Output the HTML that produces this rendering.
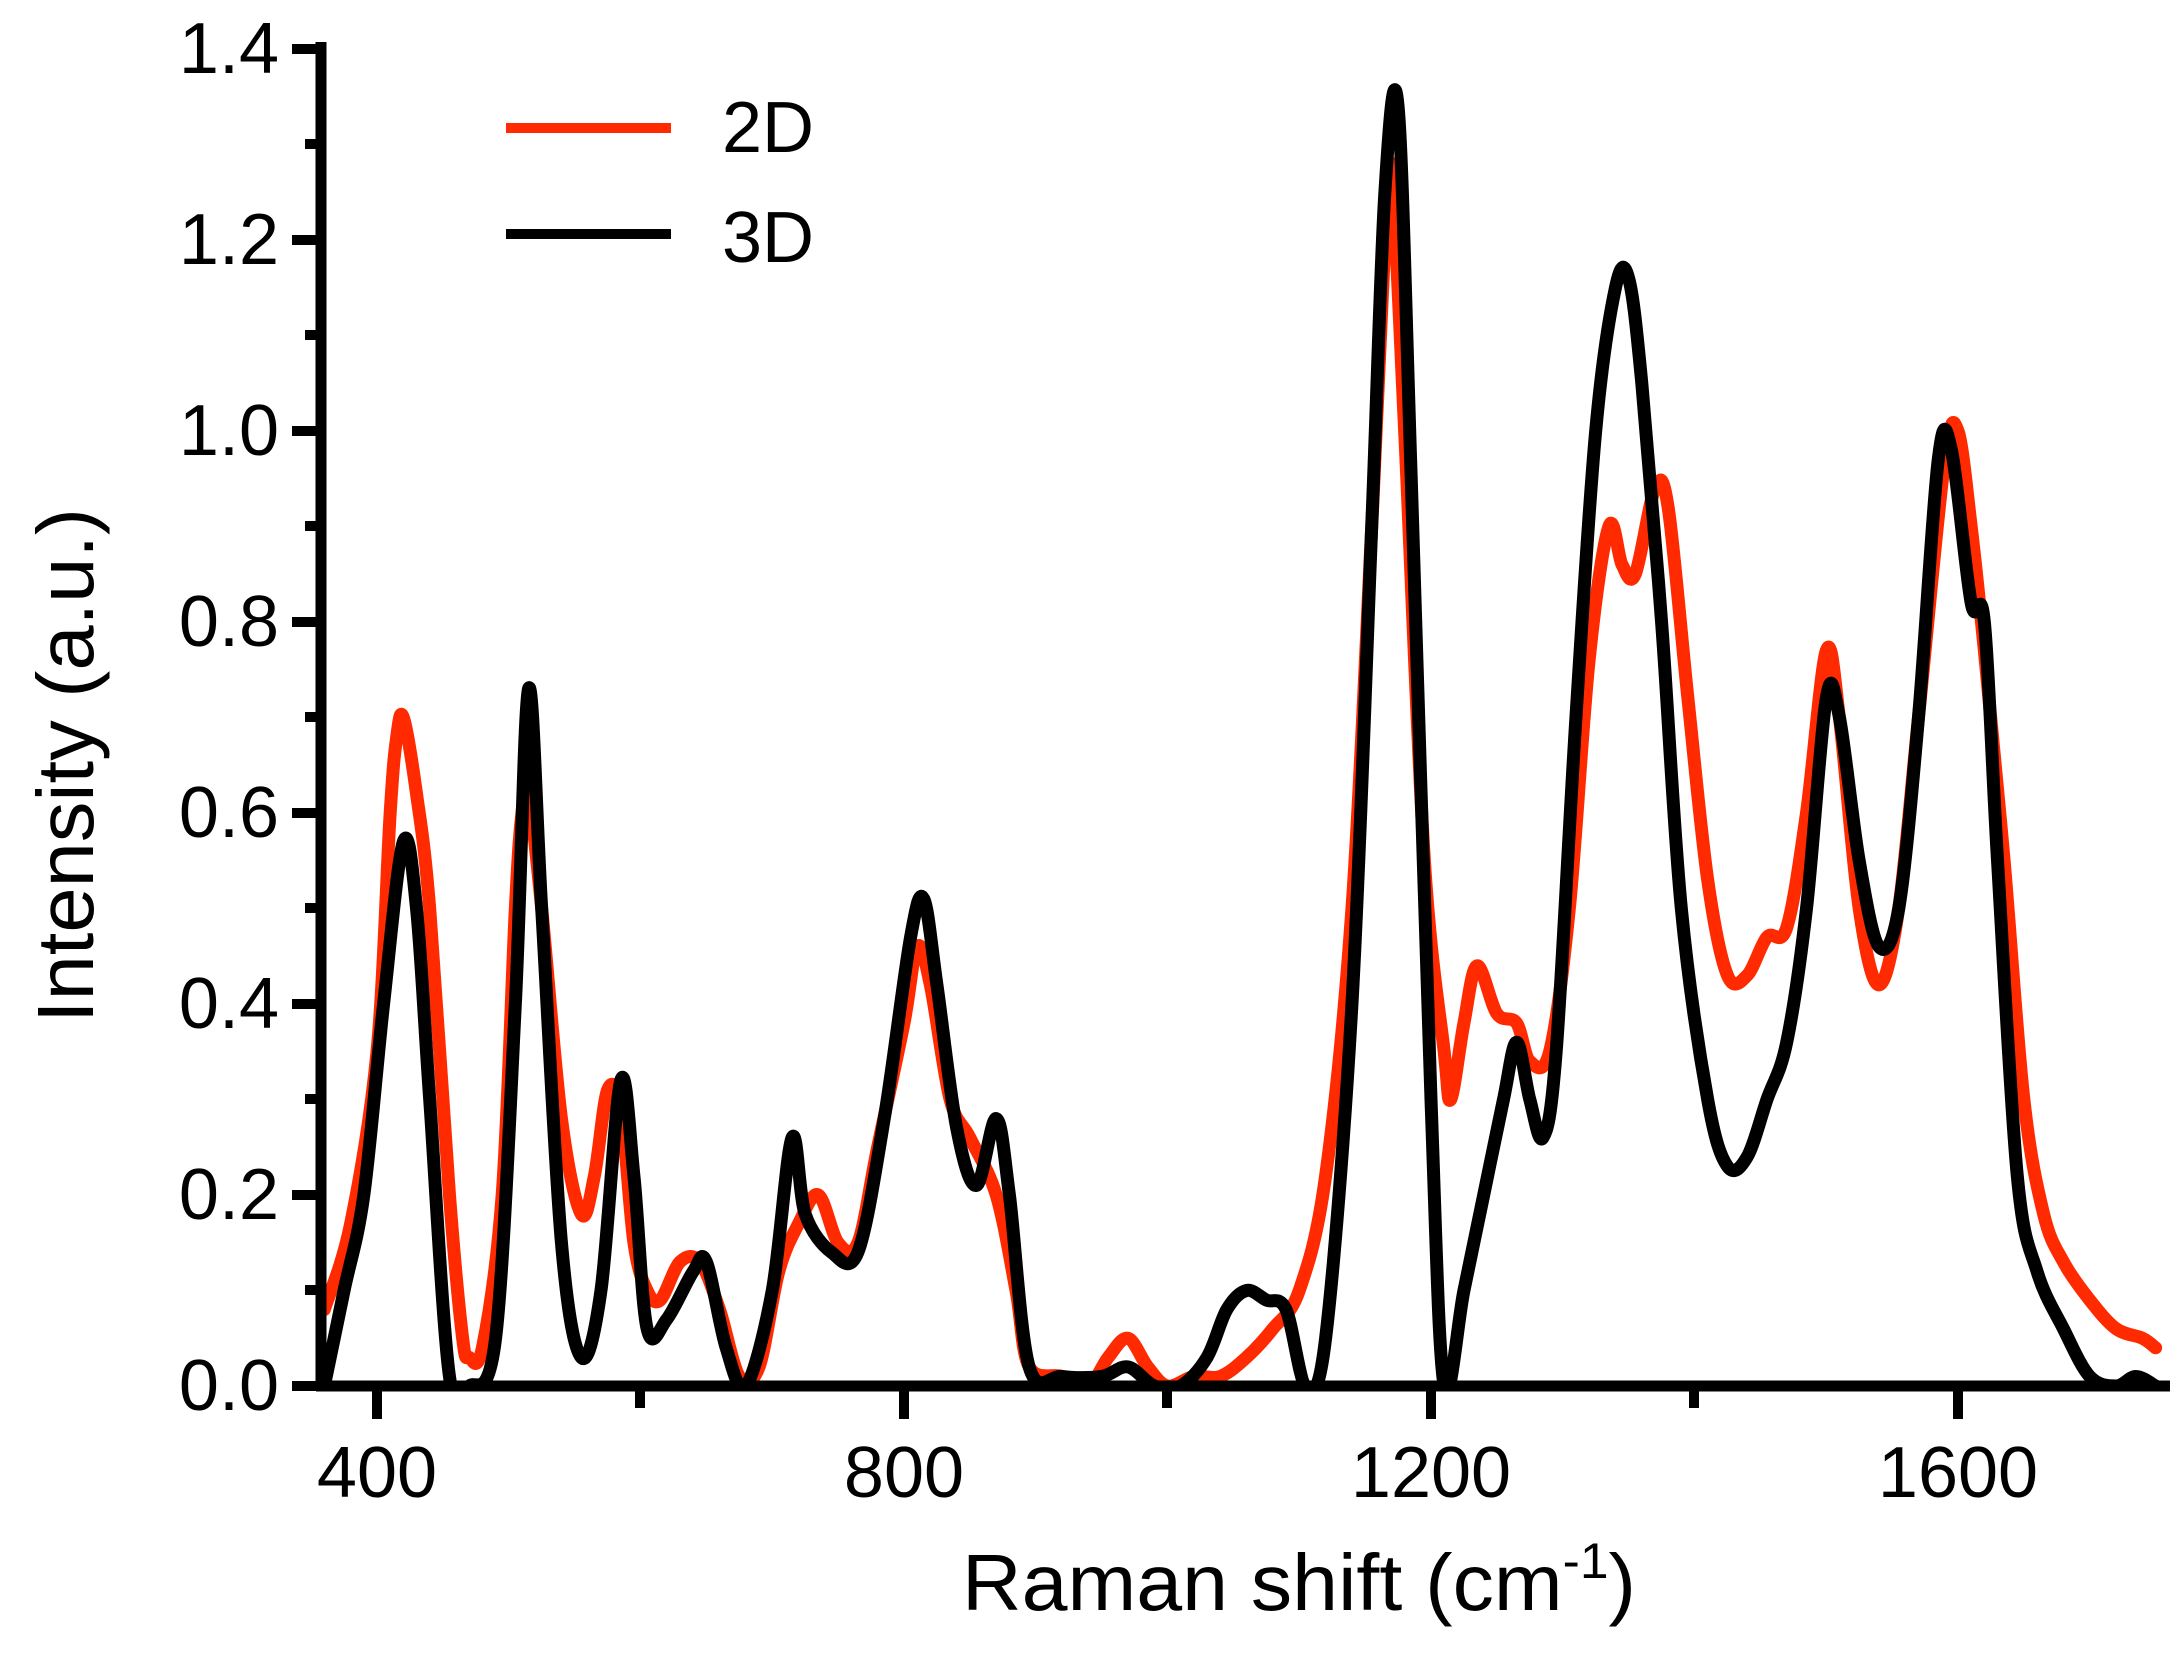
<!DOCTYPE html>
<html><head><meta charset="utf-8"><style>html,body{margin:0;padding:0;background:#fff}svg{display:block}</style></head>
<body>
<svg width="2179" height="1659" viewBox="0 0 2179 1659" xmlns="http://www.w3.org/2000/svg" font-family="Liberation Sans, sans-serif">
<defs><clipPath id="c"><rect x="326" y="20" width="1845" height="1362"/></clipPath></defs>
<g clip-path="url(#c)" fill="none" stroke-linejoin="round" stroke-linecap="round">
<path id="r" stroke="#ff2a00" stroke-width="13" d=""/>
<path id="k" stroke="#000" stroke-width="13" d=""/>
</g>
<g stroke="#000" stroke-width="11" fill="none">
<line x1="321" y1="42" x2="321" y2="1391"/>
<line x1="316" y1="1386" x2="2170" y2="1386"/>
</g>
<g stroke="#000" stroke-width="10">
<line x1="292" y1="1386" x2="321" y2="1386"/><line x1="292" y1="1195" x2="321" y2="1195"/><line x1="292" y1="1004" x2="321" y2="1004"/><line x1="292" y1="813" x2="321" y2="813"/><line x1="292" y1="622" x2="321" y2="622"/><line x1="292" y1="431" x2="321" y2="431"/><line x1="292" y1="240" x2="321" y2="240"/><line x1="292" y1="49" x2="321" y2="49"/>
<line x1="305" y1="1290" x2="321" y2="1290"/><line x1="305" y1="1099" x2="321" y2="1099"/><line x1="305" y1="908" x2="321" y2="908"/><line x1="305" y1="717" x2="321" y2="717"/><line x1="305" y1="526" x2="321" y2="526"/><line x1="305" y1="335" x2="321" y2="335"/><line x1="305" y1="144" x2="321" y2="144"/>
<line x1="377" y1="1386" x2="377" y2="1419"/><line x1="904" y1="1386" x2="904" y2="1419"/><line x1="1431" y1="1386" x2="1431" y2="1419"/><line x1="1958" y1="1386" x2="1958" y2="1419"/>
<line x1="640" y1="1386" x2="640" y2="1408"/><line x1="1167" y1="1386" x2="1167" y2="1408"/><line x1="1694" y1="1386" x2="1694" y2="1408"/>
</g>
<g font-size="72" fill="#000" text-anchor="end">
<text x="279" y="1410">0.0</text><text x="279" y="1219">0.2</text><text x="279" y="1028">0.4</text><text x="279" y="837">0.6</text><text x="279" y="646">0.8</text><text x="279" y="455">1.0</text><text x="279" y="264">1.2</text><text x="279" y="73">1.4</text>
</g>
<g font-size="72" fill="#000" text-anchor="middle">
<text x="377" y="1497">400</text><text x="904" y="1497">800</text><text x="1431" y="1497">1200</text><text x="1958" y="1497">1600</text>
</g>
<text x="962" y="1610" font-size="80" textLength="674" lengthAdjust="spacingAndGlyphs">Raman shift (cm<tspan font-size="50" dy="-32">-1</tspan><tspan dy="32">)</tspan></text>
<text transform="translate(93,1023) rotate(-90)" font-size="80" textLength="515" lengthAdjust="spacingAndGlyphs">Intensity (a.u.)</text>
<line x1="506" y1="128" x2="671" y2="128" stroke="#ff2a00" stroke-width="10"/>
<line x1="506" y1="234" x2="671" y2="234" stroke="#000" stroke-width="10"/>
<text x="722" y="152" font-size="72">2D</text>
<text x="722" y="262" font-size="72">3D</text>
</svg>
<script>
var R=[360,0.08,380,0.17,400,0.35,410,0.6,415,0.68,420,0.70,430,0.62,440,0.5,455,0.2,465,0.05,470,0.03,480,0.04,495,0.2,505,0.5,510,0.6,515,0.62,525,0.5,540,0.28,555,0.18,565,0.22,575,0.31,585,0.29,595,0.15,605,0.1,615,0.09,630,0.13,645,0.13,660,0.08,675,0.01,690,0.02,705,0.12,720,0.17,735,0.2,750,0.15,765,0.15,780,0.25,800,0.38,810,0.46,820,0.42,835,0.3,850,0.26,870,0.2,885,0.1,895,0.02,920,0.01,940,0.0,955,0.03,970,0.05,985,0.02,1000,0.0,1020,0.01,1040,0.01,1060,0.03,1080,0.06,1100,0.1,1120,0.22,1140,0.5,1155,0.9,1165,1.2,1170,1.27,1180,1.0,1195,0.55,1210,0.35,1215,0.30,1225,0.38,1235,0.44,1250,0.39,1265,0.38,1275,0.34,1290,0.35,1305,0.5,1320,0.76,1335,0.9,1345,0.86,1355,0.85,1370,0.94,1380,0.92,1395,0.72,1410,0.53,1425,0.43,1440,0.43,1455,0.47,1470,0.48,1485,0.6,1500,0.77,1510,0.7,1525,0.5,1540,0.42,1555,0.5,1570,0.7,1590,0.97,1600,1.0,1610,0.9,1620,0.77,1635,0.55,1650,0.3,1665,0.18,1680,0.13,1700,0.09,1720,0.06,1740,0.05,1750,0.04];
var K=[360,0.0,375,0.1,390,0.2,405,0.4,420,0.57,430,0.5,440,0.3,455,0.01,470,0.0,490,0.05,505,0.4,515,0.73,525,0.5,540,0.15,555,0.03,570,0.1,585,0.32,595,0.22,605,0.06,620,0.07,640,0.12,650,0.13,665,0.04,680,0.0,700,0.1,715,0.26,725,0.18,745,0.14,765,0.14,785,0.28,805,0.47,815,0.51,825,0.42,840,0.27,855,0.21,870,0.28,880,0.2,895,0.02,920,0.01,950,0.01,970,0.02,990,0.0,1010,0.0,1030,0.03,1045,0.08,1060,0.1,1075,0.09,1090,0.08,1105,0.0,1120,0.05,1140,0.4,1155,0.9,1165,1.25,1175,1.34,1185,0.95,1200,0.3,1210,0.0,1225,0.1,1240,0.2,1255,0.3,1265,0.36,1275,0.3,1285,0.26,1295,0.35,1310,0.7,1325,1.0,1340,1.15,1350,1.16,1360,1.05,1375,0.8,1390,0.5,1410,0.3,1425,0.23,1440,0.24,1455,0.3,1470,0.36,1485,0.5,1500,0.72,1510,0.7,1525,0.55,1540,0.46,1555,0.5,1570,0.7,1585,0.97,1595,0.98,1610,0.82,1620,0.8,1630,0.55,1645,0.22,1660,0.12,1680,0.06,1700,0.01,1720,0.0,1735,0.01,1750,0.0];
function P(a){var p=[];for(var i=0;i<a.length;i+=2)p.push([1.3175*a[i]-150,1386-955*a[i+1]]);
var d="M"+p[0][0]+","+p[0][1];
for(var i=0;i<p.length-1;i++){var p0=p[i-1]||p[i],p1=p[i],p2=p[i+1],p3=p[i+2]||p2,t=6;
d+=" C"+(p1[0]+(p2[0]-p0[0])/t)+","+(p1[1]+(p2[1]-p0[1])/t)+" "+(p2[0]-(p3[0]-p1[0])/t)+","+(p2[1]-(p3[1]-p1[1])/t)+" "+p2[0]+","+p2[1];}
return d;}
document.getElementById("r").setAttribute("d",P(R));
document.getElementById("k").setAttribute("d",P(K));
</script>
</body></html>
